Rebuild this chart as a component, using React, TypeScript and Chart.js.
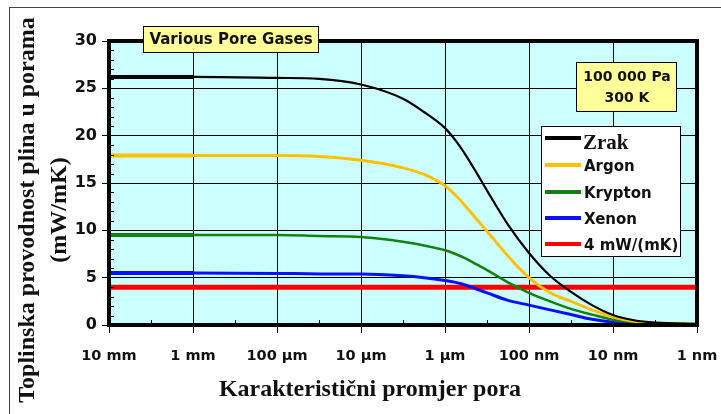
import React, { useEffect, useRef } from 'react';
import { Chart, registerables } from 'chart.js';

Chart.register(...registerables);

// Pore diameter (nm) at each sampled point
const poreDiameterNm = [1e7, 1e6, 1e5, 31623, 1e4, 3162, 1778, 1000, 750, 562, 422, 316, 178, 100, 56.2, 31.6, 17.8, 10, 5.62, 3.16, 1];

// Thermal conductivity of gas in pores (mW/mK)
const zrak = [26.2, 26.2, 26.1, 26.0, 25.4, 23.9, 22.5, 20.8, 19.5, 17.9, 16.1, 14.2, 10.6, 7.6, 5.2, 3.5, 2.1, 1.05, 0.5, 0.25, 0.1];
const argon = [17.9, 17.9, 17.9, 17.8, 17.4, 16.6, 15.9, 14.7, 13.7, 12.5, 11.2, 9.9, 7.3, 5.0, 3.4, 2.5, 1.6, 0.85, 0.4, 0.2, 0.1];
const krypton = [9.5, 9.5, 9.5, 9.4, 9.3, 8.8, 8.4, 7.9, 7.5, 7.0, 6.4, 5.8, 4.5, 3.4, 2.5, 1.7, 1.1, 0.55, 0.3, 0.15, 0.1];
const xenon = [5.5, 5.5, 5.45, 5.4, 5.4, 5.2, 5.0, 4.7, 4.5, 4.2, 3.8, 3.4, 2.6, 2.1, 1.6, 1.1, 0.6, 0.3, 0.15, 0.1, 0.05];
const limitX = [1e7, 1];
const limitY = [4, 4];

const seriesLabels = ['Zrak', 'Argon', 'Krypton', 'Xenon', '4 mW/(mK)'];

const xTickValuesNm = [1e7, 1e6, 1e5, 1e4, 1e3, 100, 10, 1];
const xTickLabels = ['10 mm', '1 mm', '100 µm', '10 µm', '1 µm', '100 nm', '10 nm', '1 nm'];
const xMinorTickValuesNm = [3.162e6, 3.162e5, 31623, 3162, 316.2, 31.62, 3.162];

const yTitleLines = ['Toplinska provodnost plina u porama', '(mW/mK)'];
const xTitle = 'Karakteristični promjer pora';
const boxTitle = 'Various Pore Gases';
const conditionLines = ['100 000 Pa', '300 K'];

const SANS = '"DejaVu Sans", sans-serif';
const SERIF = '"Liberation Serif", "Times New Roman", serif';

const toPoints = (ys: number[]) => ys.map((y, i) => ({ x: poreDiameterNm[i], y }));

const decorPlugin = {
  id: 'decor',
  beforeDraw(chart: any) {
    const { ctx, chartArea: a } = chart;
    ctx.save();
    ctx.fillStyle = '#ccffff';
    ctx.fillRect(a.left, a.top, a.right - a.left, a.bottom - a.top);
    ctx.restore();
  },
  afterDatasetsDraw(chart: any) {
    const { ctx, chartArea: a } = chart;
    const xs = chart.scales.x;
    const ys = chart.scales.y;
    ctx.save();
    ctx.strokeStyle = '#000';
    ctx.lineWidth = 1;
    ctx.beginPath();
    for (let v = 1; v < 30; v++) {
      if (v % 5 === 0) continue;
      const py = Math.round(ys.getPixelForValue(v)) + 0.5;
      ctx.moveTo(a.left, py);
      ctx.lineTo(a.left + 5, py);
    }
    xMinorTickValuesNm.forEach((v) => {
      const px = Math.round(xs.getPixelForValue(v)) + 0.5;
      ctx.moveTo(px, a.bottom);
      ctx.lineTo(px, a.bottom - 5);
    });
    ctx.stroke();
    ctx.lineWidth = 4;
    ctx.strokeStyle = '#000';
    ctx.strokeRect(a.left, a.top, a.right - a.left, a.bottom - a.top);
    ctx.restore();
  },
  afterDraw(chart: any) {
    const { ctx } = chart;
    ctx.save();
    // title box
    ctx.fillStyle = '#ffff99';
    ctx.fillRect(143, 26, 175, 26);
    ctx.strokeStyle = '#000';
    ctx.lineWidth = 1;
    ctx.strokeRect(143.5, 26.5, 175, 26);
    ctx.fillStyle = '#111';
    ctx.font = `bold 15px ${SANS}`;
    ctx.textAlign = 'center';
    ctx.textBaseline = 'middle';
    ctx.fillText(boxTitle, 231, 40);

    // conditions box
    ctx.fillStyle = '#ffff99';
    ctx.fillRect(576, 62, 100, 49);
    ctx.strokeRect(576.5, 62.5, 100, 49);
    ctx.fillStyle = '#111';
    ctx.font = `bold 14px ${SANS}`;
    ctx.fillText(conditionLines[0], 627, 77);
    ctx.fillText(conditionLines[1], 627, 98);

    // legend
    ctx.fillStyle = '#fff';
    ctx.fillRect(541, 126, 139, 130);
    ctx.strokeStyle = '#000';
    ctx.strokeRect(541.5, 126.5, 139, 130);
    const ds = chart.data.datasets;
    const rowY = [138, 165, 192, 218, 244];
    ds.forEach((d: any, i: number) => {
      const y = rowY[i];
      ctx.strokeStyle = d.borderColor;
      ctx.lineWidth = 4;
      ctx.beginPath();
      ctx.moveTo(545, y);
      ctx.lineTo(581, y);
      ctx.stroke();
      ctx.fillStyle = '#111';
      ctx.textAlign = 'left';
      ctx.textBaseline = 'middle';
      if (i === 0) {
        ctx.font = `bold 21px ${SERIF}`;
        ctx.fillText(d.label, 583, y + 6);
      } else {
        ctx.font = `bold 15px ${SANS}`;
        ctx.fillText(d.label, 584, y + 2);
      }
    });

    // axis titles
    ctx.fillStyle = '#111';
    ctx.font = `bold 24px ${SERIF}`;
    ctx.textAlign = 'center';
    ctx.textBaseline = 'middle';
    ctx.fillText(xTitle, 370, 390);
    ctx.translate(0, 210);
    ctx.rotate(-Math.PI / 2);
    ctx.fillText(yTitleLines[0], 0, 28);
    ctx.fillText(yTitleLines[1], 0, 60);
    ctx.restore();
  },
};

export default function App() {
  const ref = useRef<HTMLCanvasElement>(null);
  useEffect(() => {
    if (!ref.current) return;
    const seg = (first: number, rest: number) => ({
      borderWidth: (c: any) => (c.p0DataIndex === 0 ? first : rest),
    });
    const chart = new Chart(ref.current, {
      type: 'line',
      data: {
        datasets: [
          { label: seriesLabels[0], data: toPoints(zrak), borderColor: '#000000', borderWidth: 2.2, segment: seg(4, 2.2) },
          { label: seriesLabels[1], data: toPoints(argon), borderColor: '#ffc000', borderWidth: 3, segment: seg(4, 3) },
          { label: seriesLabels[2], data: toPoints(krypton), borderColor: '#138013', borderWidth: 2.5, segment: seg(4, 2.5) },
          { label: seriesLabels[3], data: toPoints(xenon), borderColor: '#0a10f5', borderWidth: 3, segment: seg(4, 3) },
          { label: seriesLabels[4], data: limitX.map((x, i) => ({ x, y: limitY[i] })), borderColor: '#ff0000', borderWidth: 5 },
        ] as any,
      },
      options: {
        animation: false,
        responsive: false,
        events: [],
        elements: {
          point: { radius: 0 },
          line: { cubicInterpolationMode: 'monotone', tension: 0.4 },
        },
        layout: { padding: { left: 0, right: 24, top: 41, bottom: 0 } },
        plugins: { legend: { display: false }, tooltip: { enabled: false }, title: { display: false } },
        scales: {
          x: {
            type: 'logarithmic',
            reverse: true,
            min: 1,
            max: 1e7,
            afterBuildTicks: (s: any) => {
              s.ticks = xTickValuesNm.map((v) => ({ value: v }));
            },
            afterFit: (s: any) => {
              s.height = 89;
              s.paddingLeft = 0;
              s.paddingRight = 0;
            },
            ticks: {
              autoSkip: false,
              maxRotation: 0,
              padding: 15,
              color: '#111',
              font: { family: SANS, weight: 'bold', size: 14.5 },
              callback: (v: any) => {
                const i = xTickValuesNm.findIndex((t) => Math.abs(Math.log10(t) - Math.log10(v)) < 1e-6);
                return i >= 0 ? xTickLabels[i] : '';
              },
            },
            grid: { color: '#000', lineWidth: 1, tickLength: 8 },
            border: { display: false },
          },
          y: {
            min: 0,
            max: 30,
            afterFit: (s: any) => {
              s.width = 109;
              s.paddingTop = 0;
              s.paddingBottom = 0;
            },
            ticks: {
              stepSize: 5,
              padding: 5,
              color: '#111',
              font: { family: SANS, weight: 'bold', size: 16 },
            },
            grid: { color: '#000', lineWidth: 1, tickLength: 7 },
            border: { display: false },
          },
        },
      } as any,
      plugins: [decorPlugin],
    });
    return () => chart.destroy();
  }, []);

  return (
    <div style={{ position: 'fixed', left: 0, top: 0, width: 721, height: 414, background: '#fff' }}>
      <canvas ref={ref} width={721} height={414} style={{ display: 'block' }} />
      <div
        style={{
          position: 'absolute',
          left: 9,
          top: 7,
          width: 740,
          height: 420,
          borderLeft: '1px solid #444',
          borderTop: '1px solid #444',
          pointerEvents: 'none',
        }}
      />
    </div>
  );
}
